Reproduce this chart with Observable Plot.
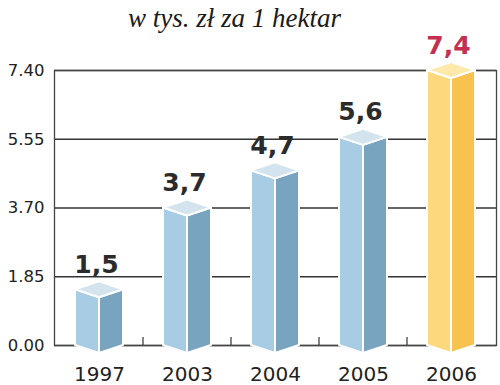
<!DOCTYPE html>
<html><head><meta charset="utf-8">
<script src="https://cdn.jsdelivr.net/npm/d3@7"></script>
<script src="https://cdn.jsdelivr.net/npm/@observablehq/plot@0.6"></script>
<style>
body{margin:0;background:#fff;}
#wrap{width:500px;height:385px;position:relative;overflow:hidden;}
#title{position:absolute;left:0;top:0;width:469px;height:40px;text-align:center;font-family:"Liberation Serif",serif;font-style:italic;font-size:27px;line-height:36px;color:#1a1a1a;white-space:nowrap;z-index:2;}
#chart{position:absolute;left:0;top:0;}
</style></head><body>
<div id="wrap"><div id="chart"></div><div id="title"></div></div>
<script>
const title = "w tys. zł za 1 hektar";
const years = ["1997","2003","2004","2005","2006"];
const values = [1.5, 3.7, 4.7, 5.6, 7.4];
const labels = ["1,5","3,7","4,7","5,6","7,4"];
const highlight = [false,false,false,false,true];
const yTicks = [0, 1.85, 3.70, 5.55, 7.40];

const data = years.map((year,i)=>({year, value: values[i], label: labels[i], hi: highlight[i]}));
document.getElementById("title").textContent = title;

const blue = {front:"#a8cce4", side:"#78a4c0", top:"#d4e4ee"};
const gold = {front:"#fdd87c", side:"#f8c24e", top:"#fde9aa"};

function bars3d(index, scales, channels, dimensions) {
  const x = scales.x, y = scales.y;
  const bw = x(years[1]) - x(years[0]);
  const w = 24, d = 8;
  const y0 = y(0);
  const g = d3.create("svg:g");
  for (let k = 1; k < years.length; k++) {
    const sx = x(years[k]);
    g.append("line").attr("x1", sx).attr("x2", sx).attr("y1", y0).attr("y2", y0 - 8)
      .attr("stroke", "#333").attr("stroke-width", 1.2);
  }
  for (const i of index) {
    const dd = data[i];
    const c = dd.hi ? gold : blue;
    const cx = x(dd.year) + bw / 2;
    const yt = y(dd.value);
    const poly = (pts, fill) => g.append("polygon")
      .attr("points", pts.map(p => p.join(",")).join(" "))
      .attr("fill", fill).attr("stroke", "#fff").attr("stroke-width", 2).attr("stroke-linejoin", "round");
    poly([[cx-w, yt],[cx, yt+d],[cx, y0+d],[cx-w, y0]], c.front);
    poly([[cx, yt+d],[cx+w, yt],[cx+w, y0],[cx, y0+d]], c.side);
    poly([[cx-w, yt],[cx, yt-d],[cx+w, yt],[cx, yt+d]], c.top);
  }
  return g.node();
}

const chart = Plot.plot({
  width: 500,
  height: 385,
  marginTop: 70,
  marginBottom: 40,
  marginLeft: 54,
  marginRight: 4,
  style: {fontFamily: "DejaVu Sans", color: "#222", background: "transparent"},
  x: {domain: years, padding: 0, label: null},
  y: {domain: [0, 7.4], label: null},
  color: {type: "identity"},
  marks: [
    Plot.ruleY(yTicks, {stroke: "#333", strokeWidth: 1.3}),
    Plot.frame({stroke: "#444", strokeWidth: 1.3}),
    Plot.barY(data, {x: "year", y: "value", render: bars3d}),
    Plot.text(data, {x: "year", y: "value", text: "label", dy: -17, dx: -3, lineAnchor: "bottom",
      fontSize: 25, fontWeight: "bold", fill: d => d.hi ? "#c43052" : "#2b2b2b"}),
    Plot.axisY({ticks: yTicks, tickFormat: d3.format(".2f"), tickSize: 0, tickPadding: 10, fontSize: 16.5, label: null, fill: "#222"}),
    Plot.axisX({tickSize: 0, tickPadding: 21, fontSize: 20, label: null, fill: "#222"})
  ]
});
document.getElementById("chart").appendChild(chart);
</script>
</body></html>
